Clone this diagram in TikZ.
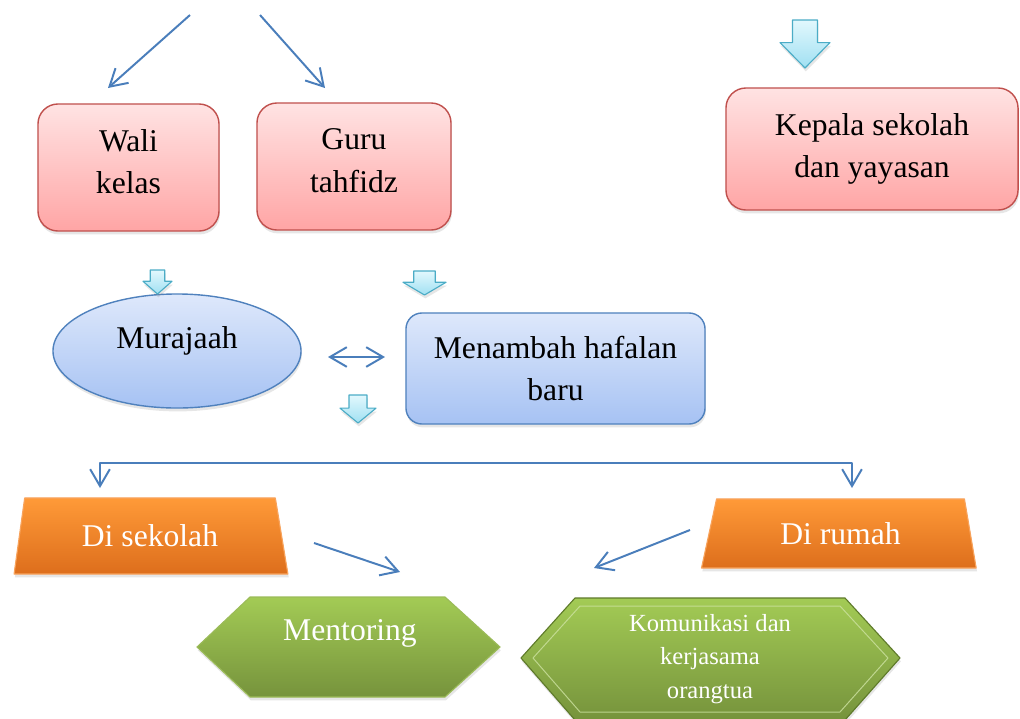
\documentclass[tikz,border=0pt]{standalone}
\usepackage{fontspec}
\setmainfont{Liberation Serif}
\usetikzlibrary{shapes.geometric,arrows.meta,shadows}
\definecolor{linkblue}{HTML}{4A7EBB}
\definecolor{redtop}{HTML}{FFE3E3}
\definecolor{redbot}{HTML}{FFA5A5}
\definecolor{redline}{HTML}{C0504D}
\definecolor{bluetop}{HTML}{DEE8FB}
\definecolor{bluebot}{HTML}{A6C2F3}
\definecolor{blueline}{HTML}{4F81BD}
\definecolor{orangetop}{HTML}{FF9A38}
\definecolor{orangebot}{HTML}{DD6E1C}
\definecolor{orangeline}{HTML}{F8A35C}
\definecolor{greentop}{HTML}{A3CB55}
\definecolor{greenbot}{HTML}{76933C}
\definecolor{greenline}{HTML}{9BBB59}
\definecolor{greendark}{HTML}{5E7A2A}
\definecolor{cyantop}{HTML}{E2F8FD}
\definecolor{cyanbot}{HTML}{A0E0F2}
\definecolor{cyanline}{HTML}{4BACC6}
\tikzset{
	boxshadow/.style={drop shadow={shadow xshift=0.6pt,shadow yshift=-2.4pt,opacity=0.2}},
	redbox/.style={rectangle,rounded corners=0.5cm,draw=redline,line width=1pt,
		top color=redtop,bottom color=redbot,boxshadow,align=center},
	bluebox/.style={rectangle,rounded corners=0.4cm,draw=blueline,line width=1pt,
		top color=bluetop,bottom color=bluebot,boxshadow,align=center},
	blueoval/.style={ellipse,draw=blueline,line width=1pt,
		top color=bluetop,bottom color=bluebot,boxshadow},
	orangebox/.style={trapezium,trapezium stretches=true,draw=orangeline,line width=0.8pt,
		top color=orangetop,bottom color=orangebot,boxshadow,text=white},
	greenhex/.style={draw=greenline,line width=0.8pt,top color=greentop,bottom color=greenbot,boxshadow},
	blockarrow/.style={draw=cyanline,line width=0.8pt,top color=cyantop,bottom color=cyanbot,boxshadow},
	dropblk/.pic={\path[blockarrow] (-0.25,0) -- (0.25,0) -- (0.25,0.47) -- (0.5,0.47)
		-- (0,1) -- (-0.5,0.47) -- (-0.25,0.47) -- cycle;},
	link/.style={draw=linkblue,line width=1.4pt,->}
}
\begin{document}
\begin{tikzpicture}[x=0.025cm,y=-0.025cm,line join=round,
		font=\fontsize{22.5}{30}\selectfont,>={Straight Barb[length=12pt,width=14pt]}]
	\useasboundingbox (0,0) rectangle (1020,718);
	\node[redbox,minimum width=4.525cm,minimum height=3.175cm,text depth=0.3cm] (wali) at (128.5,167.5) {Wali\\kelas};
	\node[redbox,minimum width=4.85cm,minimum height=3.175cm,text depth=0.3cm] (guru) at (354,166.5) {Guru\\tahfidz};
	\node[redbox,minimum width=7.3cm,minimum height=3.05cm] (kepala) at (872,149) {Kepala sekolah\\dan yayasan};
	\node[blueoval,minimum width=6.2cm,minimum height=2.85cm,
		label={[yshift=0.25cm]center:Murajaah}] (murajaah) at (177,351) {};
	\node[bluebox,minimum width=7.475cm,minimum height=2.775cm] (menambah) at (555.5,368.5) {Menambah hafalan\\baru};
	\node[orangebox,trapezium left angle=79,trapezium right angle=77,
		minimum width=6.85cm,minimum height=1.9cm] (sekolah) at (150,536) {Di sekolah};
	\node[orangebox,trapezium left angle=76,trapezium right angle=79,
		minimum width=6.875cm,minimum height=1.725cm] (rumah) at (840.5,533.5) {Di rumah};
	\path[greenhex] (197,647) -- (250,597) -- (445,597) -- (500,647) -- (445,697) -- (250,697) -- cycle;
	\path[greenhex,draw=greendark] (521,658) -- (575,598) -- (845,598) -- (900,658) -- (845,720) -- (575,720) -- cycle;
	\draw[greentop!55!white,line width=0.7pt,opacity=0.8]
		(533,658) -- (580,606) -- (840,606) -- (888,658) -- (840,712) -- (580,712) -- cycle;
	\node[text=white] (mentoring) at (350,633) {Mentoring};
	\node[text=white,align=center,font=\fontsize{17.5}{24}\selectfont] (komunikasi) at (710,659)
		{Komunikasi dan\\kerjasama\\orangtua};
	\pic[xscale=29,yscale=24] at (157.5,270) {dropblk};
	\pic[xscale=43,yscale=24] at (424.5,271) {dropblk};
	\pic[xscale=36,yscale=28] at (358,395) {dropblk};
	\pic[xscale=50,yscale=48] at (805,20) {dropblk};
	\path (190,15) coordinate (t1)
		(260,15) coordinate (t2)
		(108,88) coordinate (w1)
		(325,88) coordinate (g1)
		(328,357) coordinate (m1)
		(385,357) coordinate (m2)
		(100,488) coordinate (s1)
		(852,488) coordinate (r1)
		(314,543) coordinate (s2)
		(400,572) coordinate (h1)
		(690,530) coordinate (r2)
		(594,568) coordinate (h2);
	\draw[link] (t1)--(w1);
	\draw[link] (t2)--(g1);
	\draw[link,<->] (m1)--(m2);
	\draw[link,<->] (s1)--++(0,-25)-|(r1);
	\draw[link] (s2)--(h1);
	\draw[link] (r2)--(h2);
\end{tikzpicture}
\end{document}
